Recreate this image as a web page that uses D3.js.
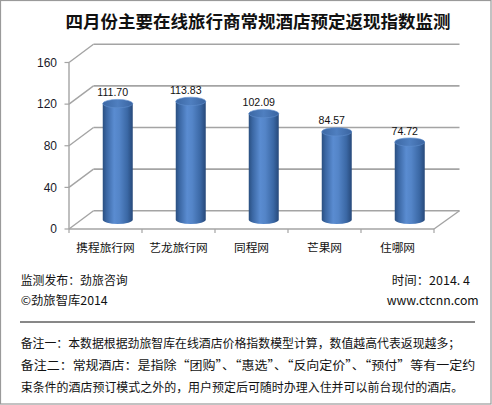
<!DOCTYPE html>
<html><head><meta charset="utf-8">
<script src="https://cdn.jsdelivr.net/npm/d3@7/dist/d3.min.js"></script>
<style>html,body{margin:0;padding:0;background:#fff;}svg{display:block;}</style>
</head><body>
<script>
const title = "四月份主要在线旅行商常规酒店预定返现指数监测";
const categories = ["携程旅行网","艺龙旅行网","同程网","芒果网","住哪网"];
const values = [111.70, 113.83, 102.09, 84.57, 74.72];
const yTicks = [0, 40, 80, 120, 160];
const footerLeft = ["监测发布：劲旅咨询", "©劲旅智库2014"];
const footerRight = ["时间：2014. 4", "www.ctcnn.com"];
const notes = [
  "备注一：本数据根据劲旅智库在线酒店价格指数模型计算，数值越高代表返现越多；",
  "备注二：常规酒店：是指除“团购”、“惠选”、“反向定价”、“预付”等有一定约",
  "束条件的酒店预订模式之外的，用户预定后可随时办理入住并可以前台现付的酒店。"
];

const W = 492, H = 405;
const svg = d3.select("body").append("svg").attr("width", W).attr("height", H);
const cjk = "'Noto Sans CJK SC','Noto Sans',sans-serif";
const lat = "'Liberation Sans',Arial,sans-serif";

const defs = svg.append("defs");
const g1 = defs.append("linearGradient").attr("id","cyl").attr("x1","0").attr("x2","1").attr("y1","0").attr("y2","0");
[[0,"#2a4f80"],[0.12,"#3a66a2"],[0.38,"#5a8cd1"],[0.55,"#5485c8"],[0.82,"#3b68a5"],[1,"#27497a"]]
  .forEach(([o,c])=>g1.append("stop").attr("offset",o).attr("stop-color",c));
const g2 = defs.append("linearGradient").attr("id","cap").attr("x1","0").attr("x2","1").attr("y1","0").attr("y2","0");
[[0,"#3c68a4"],[0.5,"#4f7fc0"],[1,"#3a64a0"]]
  .forEach(([o,c])=>g2.append("stop").attr("offset",o).attr("stop-color",c));

// border
svg.append("rect").attr("x",0.5).attr("y",0.5).attr("width",W-1.5).attr("height",H-1.5)
  .attr("fill","none").attr("stroke","#9a9a9a").attr("stroke-width",1.2);

// title
svg.append("text").attr("x",258).attr("y",28).attr("text-anchor","middle")
  .attr("font-family",cjk).attr("font-weight","bold").attr("font-size",17.5).attr("fill","#111").text(title);

// scales
const x = d3.scaleBand().domain(categories).range([69,434]);
const y = d3.scaleLinear().domain([0,160]).range([229,62.5]);
const DX = 24.5, DY = -18.3;
const grid = "#a4a4a4";

const gg = svg.append("g");
yTicks.forEach(t=>{
  const yf = y(t), yb = y(t)+DY;
  gg.append("line").attr("x1",69).attr("y1",yf).attr("x2",69+DX).attr("y2",yb).attr("stroke",grid).attr("stroke-width",1.4);
  gg.append("line").attr("x1",69+DX).attr("y1",yb).attr("x2",434+DX+1).attr("y2",yb).attr("stroke",grid).attr("stroke-width",1.6);
  gg.append("line").attr("x1",64.5).attr("y1",yf).attr("x2",69).attr("y2",yf).attr("stroke",grid).attr("stroke-width",1.2);
  svg.append("text").attr("x",57).attr("y",yf+4.3).attr("text-anchor","end")
    .attr("font-family",lat).attr("font-size",12).attr("fill","#1a1a2a").text(t);
});
// y axis line
gg.append("line").attr("x1",69).attr("y1",y(160)).attr("x2",69).attr("y2",y(0)).attr("stroke",grid).attr("stroke-width",1.4);
// floor front and right edge
gg.append("line").attr("x1",69).attr("y1",y(0)).attr("x2",434).attr("y2",y(0)).attr("stroke",grid).attr("stroke-width",1.6);
gg.append("line").attr("x1",434).attr("y1",y(0)).attr("x2",434+DX+1).attr("y2",y(0)+DY).attr("stroke",grid).attr("stroke-width",1.4);
// category ticks
categories.concat([null]).forEach((c,i)=>{
  const xx = c===null ? 434 : x(c);
  gg.append("line").attr("x1",xx).attr("y1",y(0)).attr("x2",xx).attr("y2",y(0)+4).attr("stroke",grid).attr("stroke-width",1.2);
});

// cylinders
const rx = 15, ry = 4.2;
categories.forEach((c,i)=>{
  const cx = x(c)+x.bandwidth()/2 + DX/2;
  const yb = y(0) + DY/2;
  const yt = y(values[i]) + DY/2;
  const g = svg.append("g");
  g.append("path")
    .attr("d",`M${cx-rx},${yt} L${cx-rx},${yb} A${rx},${ry} 0 0 0 ${cx+rx},${yb} L${cx+rx},${yt} Z`)
    .attr("fill","url(#cyl)");
  g.append("ellipse").attr("cx",cx).attr("cy",yt).attr("rx",rx).attr("ry",ry)
    .attr("fill","url(#cap)").attr("stroke","#5f8fcf").attr("stroke-width",0.6);
  svg.append("text").attr("x",cx-5).attr("y",yt-ry-3.3).attr("text-anchor","middle")
    .attr("font-family",lat).attr("font-size",10.6).attr("fill","#111").text(values[i].toFixed(2));
  svg.append("text").attr("x",x(c)+x.bandwidth()/2).attr("y",252).attr("text-anchor","middle")
    .attr("font-family",cjk).attr("font-size",11.7).attr("fill","#111").text(c);
});

// footer
const fl = [[20.7,284.5,107],[20.7,305,87]];
footerLeft.forEach((t,i)=>{
  svg.append("text").attr("x",fl[i][0]).attr("y",fl[i][1]).attr("font-family",cjk).attr("font-size",12)
    .attr("fill","#111").attr("textLength",fl[i][2]).attr("lengthAdjust","spacingAndGlyphs").text(t);
});
const fr = [[391.7,284.5,78.3],[386.7,305,92]];
footerRight.forEach((t,i)=>{
  svg.append("text").attr("x",fr[i][0]).attr("y",fr[i][1]).attr("font-family",cjk).attr("font-size",12)
    .attr("fill","#111").attr("textLength",fr[i][2]).attr("lengthAdjust","spacingAndGlyphs").text(t);
});
svg.append("line").attr("x1",20).attr("y1",322).attr("x2",475).attr("y2",322).attr("stroke","#111").attr("stroke-width",1);
const nl = [[347.5,439.5],[370,454.5],[391.5,442.5]];
notes.forEach((t,i)=>{
  svg.append("text").attr("x",20.7).attr("y",nl[i][0]).attr("font-family",cjk).attr("font-size",12)
    .attr("fill","#111").attr("textLength",nl[i][1]).attr("lengthAdjust","spacingAndGlyphs").text(t);
});
</script>
</body></html>
